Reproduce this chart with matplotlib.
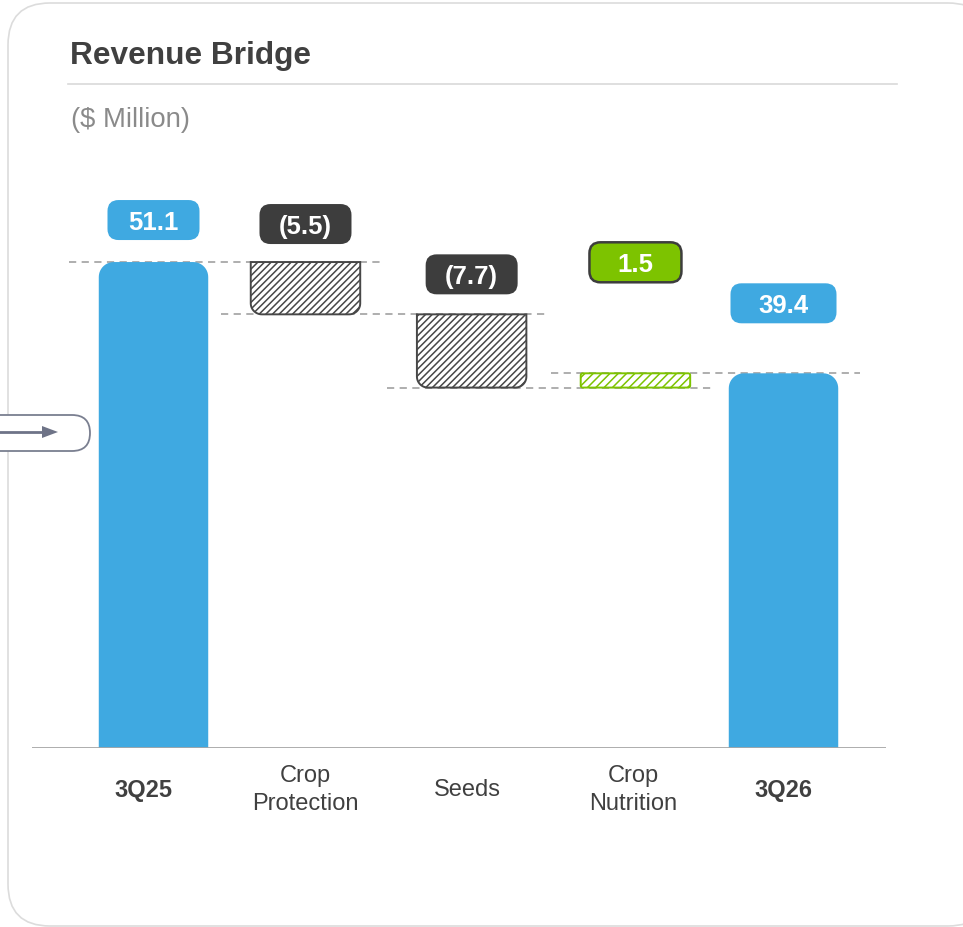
import numpy as np
import matplotlib
matplotlib.use('Agg')
import matplotlib.pyplot as plt
from matplotlib.path import Path
from matplotlib.patches import PathPatch, FancyBboxPatch, Polygon
from matplotlib.transforms import IdentityTransform, blended_transform_factory

# ---------------- data ----------------
categories = ['3Q25', 'Crop\nProtection', 'Seeds', 'Crop\nNutrition', '3Q26']
values = [51.1, -5.5, -7.7, 1.5, 39.4]
kinds = ['total', 'delta', 'delta', 'delta', 'total']
value_labels = ['51.1', '(5.5)', '(7.7)', '1.5', '39.4']
bold_ticks = [True, False, False, False, True]

title = 'Revenue Bridge'
subtitle = '($ Million)'

# ---------------- layout ----------------
W, H = 963, 927
AX_L, AX_R, AX_B, AX_T = 32, 886, 748, 150
PX_X = 157.5          # pixels per x unit
X0_PX = 153.5         # pixel of x = 0
PX_Y = 9.51           # pixels per value unit
positions = [0, 0.965, 2.02, 3.06, 4.0]
BAR_W = 0.695
label_offsets_px = [42, 38, 40, 111, 70]
label_box_w_px = [92, 92, 92, 92, 106]
tick_dx_px = [-10, 0, -4, -2, 0]
LABEL_BOX_H = 40

BLUE = '#3FA9E1'
DARK = '#3D3D3D'
GREEN = '#7DC300'
TEXT = '#404040'
DASH = '#A8A8A8'

plt.rcParams['font.family'] = ['Liberation Sans', 'DejaVu Sans']
plt.rcParams['hatch.linewidth'] = 1.1

fig = plt.figure(figsize=(W / 100, H / 100), dpi=100)

# card background
card = FancyBboxPatch((8, H - 926), 990 - 8, 923, boxstyle='round,pad=0,rounding_size=42',
                      transform=IdentityTransform(), facecolor='white', edgecolor='#DCDCDC',
                      linewidth=1.2, zorder=0)
fig.add_artist(card)

# title + rule + subtitle
fig.text(70 / W, 1 - 64 / H, title, fontsize=22.8, fontweight='bold', color=TEXT,
         va='baseline', ha='left')
fig.add_artist(plt.Line2D([68 / W, 897 / W], [1 - 84 / H, 1 - 84 / H], color='#D9D9D9',
                          linewidth=1.2, transform=fig.transFigure))
fig.text(71 / W, 1 - 127 / H, subtitle, fontsize=19.8, color='#8A8A8A',
         va='baseline', ha='left')

ax = fig.add_axes([AX_L / W, 1 - AX_B / H, (AX_R - AX_L) / W, (AX_B - AX_T) / H])
ax.set_facecolor('none')
ax.set_xlim((AX_L - X0_PX) / PX_X, (AX_R - X0_PX) / PX_X)
ax.set_ylim(0, (AX_B - AX_T) / PX_Y)
for s in ax.spines.values():
    s.set_visible(False)
ax.set_xticks([])
ax.set_yticks([])


def rounded_path(x0, y0, w, h, r_px, corners):
    rx = r_px / PX_X
    ry = min(r_px / PX_Y, h / 2)
    rx = min(rx, w / 2)
    verts = []
    def arc(cx, cy, a0, a1):
        t = np.linspace(np.radians(a0), np.radians(a1), 12)
        return list(zip(cx + rx * np.cos(t), cy + ry * np.sin(t)))
    x1, y1 = x0 + w, y0 + h
    if 'bl' in corners:
        verts += arc(x0 + rx, y0 + ry, 180, 270)
    else:
        verts.append((x0, y0))
    if 'br' in corners:
        verts += arc(x1 - rx, y0 + ry, 270, 360)
    else:
        verts.append((x1, y0))
    if 'tr' in corners:
        verts += arc(x1 - rx, y1 - ry, 0, 90)
    else:
        verts.append((x1, y1))
    if 'tl' in corners:
        verts += arc(x0 + rx, y1 - ry, 90, 180)
    else:
        verts.append((x0, y1))
    verts.append(verts[0])
    codes = [Path.MOVETO] + [Path.LINETO] * (len(verts) - 2) + [Path.CLOSEPOLY]
    return Path(verts, codes)


running = 0.0
bottoms, tops, levels = [], [], []
for v, k in zip(values, kinds):
    if k == 'total':
        b, t = 0.0, v
        running = v
    else:
        start = running
        running = running + v
        b, t = min(start, running), max(start, running)
    bottoms.append(b)
    tops.append(t)
    levels.append(running)

for i, (x, v, k) in enumerate(zip(positions, values, kinds)):
    b, t = bottoms[i], tops[i]
    x0 = x - BAR_W / 2
    if k == 'total':
        p = PathPatch(rounded_path(x0, b, BAR_W, t - b, 15, {'tl', 'tr'}),
                      facecolor=BLUE, edgecolor='none', zorder=3)
    elif v < 0:
        p = PathPatch(rounded_path(x0, b, BAR_W, t - b, 11, {'bl', 'br'}),
                      facecolor='white', edgecolor='#474747', hatch='/////',
                      linewidth=1.4, zorder=3)
    else:
        p = PathPatch(rounded_path(x0, b, BAR_W, t - b, 2, {'bl', 'br', 'tl', 'tr'}),
                      facecolor='white', edgecolor=GREEN, hatch='////',
                      linewidth=1.4, zorder=3)
    ax.add_patch(p)

# connectors
for i in range(len(values) - 1):
    lvl = levels[i]
    xa = positions[i] - BAR_W / 2 - 30 / PX_X
    xb = positions[i + 1] + BAR_W / 2 + 22 / PX_X
    ax.plot([xa, xb], [lvl, lvl], color=DASH, linewidth=1.3, linestyle=(0, (4, 3)),
            zorder=2)

# baseline
ax.axhline(0, color='#A6A6A6', linewidth=2, zorder=4)

# value label boxes
box_colors = []
for v, k in zip(values, kinds):
    if k == 'total':
        box_colors.append(BLUE)
    elif v < 0:
        box_colors.append(DARK)
    else:
        box_colors.append(GREEN)

for i, x in enumerate(positions):
    cy = tops[i] + label_offsets_px[i] / PX_Y
    bw = label_box_w_px[i] / PX_X
    bh = LABEL_BOX_H / PX_Y
    edge = DARK if (kinds[i] == 'delta' and values[i] > 0) else 'none'
    box = FancyBboxPatch((x - bw / 2, cy - bh / 2), bw, bh,
                         boxstyle='round,pad=0,rounding_size=%f' % (11 / PX_X),
                         mutation_aspect=PX_X / PX_Y,
                         facecolor=box_colors[i], edgecolor=edge, linewidth=1.8,
                         zorder=5, clip_on=False)
    ax.add_patch(box)
    ax.text(x, cy, value_labels[i], ha='center', va='center_baseline', color='white',
            fontsize=18.5, fontweight='bold', zorder=6)

# category labels
trans = blended_transform_factory(ax.transData, ax.transAxes)
ylab = -(790 - AX_B) / (AX_B - AX_T)
for i, x in enumerate(positions):
    ax.text(x + tick_dx_px[i] / PX_X, ylab, categories[i], transform=trans,
            ha='center', va='center',
            fontsize=17, fontweight='bold' if bold_ticks[i] else 'normal',
            color=TEXT, linespacing=1.38, clip_on=False)

# left side navigation pill with arrow
pill = FancyBboxPatch((-40, H - 451), 130, 36, boxstyle='round,pad=0,rounding_size=18',
                      transform=IdentityTransform(), facecolor='white', edgecolor='#7A7F90',
                      linewidth=1.3, zorder=10)
fig.add_artist(pill)
fig.add_artist(plt.Line2D([0, 44], [H - 432, H - 432], color='#6E7387', linewidth=2,
                          transform=IdentityTransform(), zorder=11))
fig.add_artist(Polygon([[42, H - 426], [58, H - 432], [42, H - 438]], closed=True,
                       transform=IdentityTransform(), facecolor='#6E7387',
                       edgecolor='none', zorder=11))

fig.savefig('out.png', dpi=100)
